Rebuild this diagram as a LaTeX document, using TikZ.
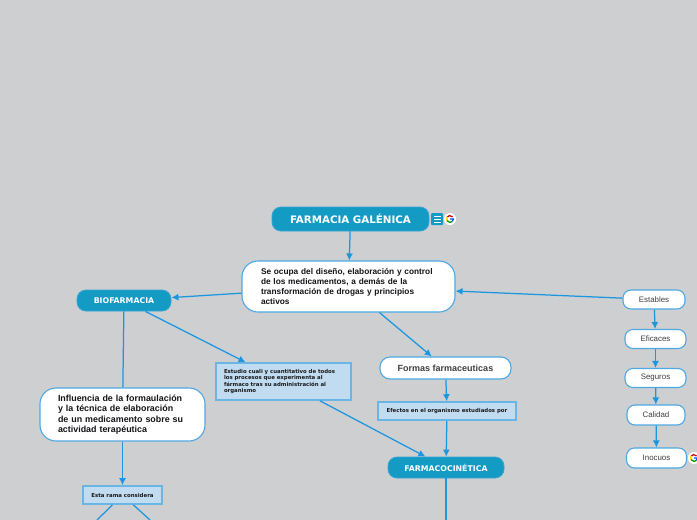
\documentclass[tikz,border=0pt]{standalone}
\usepackage{fontspec}
\setmainfont{Liberation Sans}
\newfontfamily\widefont{DejaVu Sans}
\usepackage{xcolor}
\definecolor{mapbg}{RGB}{205,207,209}
\definecolor{mapteal}{RGB}{20,155,196}
\definecolor{mapblue}{RGB}{27,150,224}
\definecolor{mapedge}{RGB}{78,168,226}
\definecolor{mapbox}{RGB}{193,220,241}
\definecolor{mapink}{RGB}{20,20,24}
\usetikzlibrary{arrows.meta}
\begin{document}
\begin{tikzpicture}[
      x=1pt,y=-1pt,
      conn/.style={mapblue,line width=1.25pt,-{Latex[length=7pt,width=7pt]}},
      plain/.style={mapblue,line width=1.25pt},
      topic/.style={fill=mapteal,draw=mapedge!60!mapteal,line width=0.8pt,rounded corners=9pt,text=white,
        inner sep=0pt,font=\widefont\bfseries\fontsize{7.8}{9}\selectfont},
      note/.style={fill=white,draw=mapedge,line width=1.1pt,rounded corners=16pt,text=mapink,
        inner ysep=0pt,align=left,font=\fontsize{8.3}{10}\selectfont\bfseries},
      pill/.style={fill=white,draw=mapedge,line width=1.1pt,rounded corners=8pt,text=black!75,
        inner sep=0pt,minimum height=19pt,font=\fontsize{7.9}{9}\selectfont},
      rbox/.style={fill=mapbox,draw=mapedge!85!white,line width=1.6pt,text=black!90,
        inner ysep=0pt,align=left,font=\widefont\bfseries\fontsize{5.4}{6.3}\selectfont}
    ]
    \useasboundingbox (0,0) rectangle (697,520);
    \clip (0,0) rectangle (697,520);
    \fill[mapbg] (0,0) rectangle (697,520);
    \node[topic,minimum width=157pt,minimum height=24pt,font=\widefont\bfseries\fontsize{10.3}{12}\selectfont]
    (farmacia) at (350.5,219) {FARMACIA GALÉNICA};
    \node[note,text width=175pt,inner xsep=19pt,minimum height=51pt] (ocupa) at (348.5,286.5)
    {Se ocupa del diseño, elaboración y control\\de los medicamentos, a demás de la\\
      transformación de drogas y principios\\activos};
    \node[topic,minimum width=94pt,minimum height=21pt] (biofarmacia) at (124,300.5) {BIOFARMACIA};
    \node[note,text width=129pt,inner xsep=18pt,minimum height=53pt,font=\fontsize{8.9}{10.4}\selectfont\bfseries]
    (influencia) at (122.5,414.5)
    {Influencia de la formaulación\\y la técnica de elaboración\\
      de un medicamento sobre su\\actividad terapéutica};
    \node[rbox,text width=119pt,inner xsep=8pt,minimum height=37pt] (estudio) at (283.5,381.5)
    {Estudio cuali y cuantitativo de todos\\los procesos que experimenta al\\
      fármaco tras su administración al\\organismo};
    \node[rbox,minimum width=79pt,minimum height=18pt,align=center] (rama) at (122.5,495) {Esta rama considera};
    \node[note,rounded corners=10pt,minimum width=131pt,minimum height=22pt,inner xsep=0pt,text=black!75,
      font=\fontsize{9}{11}\selectfont\bfseries] (formas) at (445.5,368) {Formas farmaceuticas};
    \node[rbox,minimum width=138pt,minimum height=18pt,align=center] (efectos) at (447,411)
    {Efectos en el organismo estudiados por};
    \node[topic,minimum width=116pt,minimum height=21pt] (cinetica) at (446,467.5) {FARMACOCINÉTICA};
    \node[pill,minimum width=62pt] (estables) at (654,299.5) {Estables};
    \node[pill,minimum width=61pt] (eficaces) at (655.5,339) {Eficaces};
    \node[pill,minimum width=61pt] (seguros) at (655.5,378) {Seguros};
    \node[pill,minimum width=58pt,minimum height=20pt] (calidad) at (656,415) {Calidad};
    \node[pill,minimum width=60pt,minimum height=20pt] (inocuos) at (656.5,458) {Inocuos};
    \coordinate (salida) at (446,520);
    \coordinate (ramaizq) at (97,520);
    \coordinate (ramader) at (150,520);
    \draw[conn] (farmacia) -- (ocupa);
    \draw[conn] (ocupa) -- (biofarmacia);
    \draw[plain] (biofarmacia) -- (influencia);
    \draw[conn] (biofarmacia) -- (estudio);
    \draw[conn] (ocupa) -- (formas);
    \draw[conn] (formas) -- (efectos);
    \draw[conn] (efectos) -- (cinetica);
    \draw[conn] (estudio) -- (cinetica);
    \draw[plain] (cinetica) -- (salida);
    \draw[conn] (influencia) -- (rama);
    \draw[plain] (rama) -- (ramaizq);
    \draw[plain] (rama) -- (ramader);
    \draw[conn] (estables) -- (ocupa);
    \foreach \a/\b in {estables/eficaces,eficaces/seguros,seguros/calidad,calidad/inocuos} {
      \draw[conn] (\a) -- (\b);
    }
    \fill[mapteal,rounded corners=1pt] (431,213) rectangle (443,225);
    \foreach \y in {216,219,222} {
      \draw[white,line width=0.8pt] (433.5,\y) -- (440.5,\y);
    }
    \foreach \cx/\cy in {450/219,694/458} {
      \begin{scope}[shift={(\cx,\cy)},y=1pt]
        \fill[white] (0,0) circle (6pt);
        \draw[red!80!black,line width=1.3pt] (40:3.4pt) arc[start angle=40,end angle=150,radius=3.4pt];
        \draw[yellow!80!orange,line width=1.3pt] (150:3.4pt) arc[start angle=150,end angle=210,radius=3.4pt];
        \draw[green!60!black,line width=1.3pt] (210:3.4pt) arc[start angle=210,end angle=315,radius=3.4pt];
        \draw[blue!70!cyan,line width=1.3pt] (315:3.4pt) arc[start angle=315,end angle=360,radius=3.4pt] -- (0,0);
      \end{scope}
    }
  \end{tikzpicture}
\end{document}
